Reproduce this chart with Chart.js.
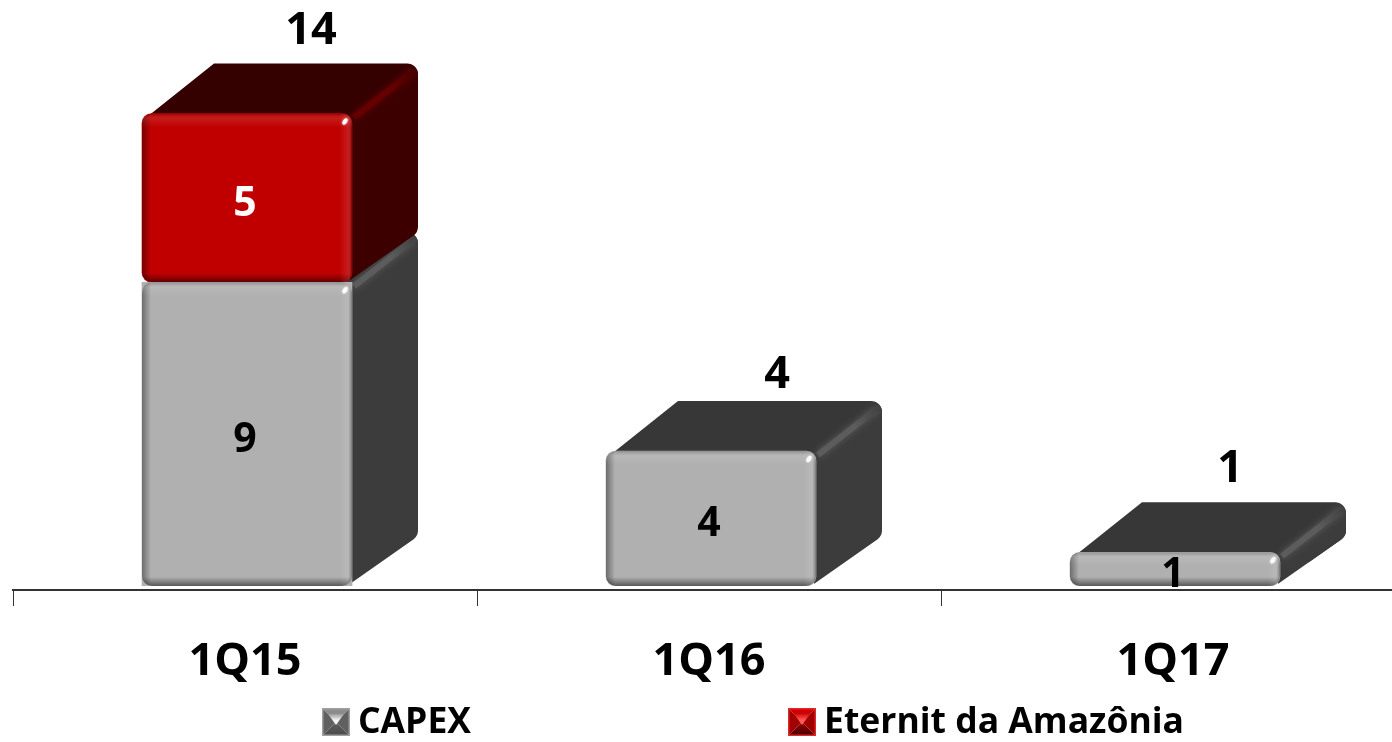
<!DOCTYPE html>
<html>
<head>
<meta charset="utf-8">
<title>CAPEX</title>
<script src="https://cdn.jsdelivr.net/npm/chart.js@4/dist/chart.umd.min.js"></script>
<style>
  html, body { margin: 0; padding: 0; background: #fff; overflow: hidden; }
  #wrap { width: 1392px; height: 742px; overflow: hidden; }
  canvas { display: block; }
</style>
</head>
<body>
<div id="wrap"><canvas id="capexChart" width="1420" height="742"></canvas></div>
<script>
const quarters = ["1Q15", "1Q16", "1Q17"]
const capexValues = [9, 4, 1]
const amazoniaValues = [5, null, null]
const totals = [14, 4, 1]

const FONT = "'Open Sans', sans-serif"
const DEPTH_X = 66
const DEPTH_Y = -50

// face colours for each series of the extruded bars
const faces = [
  {
    front: "#b0b0b0", top: "#373737", side: "#3c3c3c", ridge: "#5c5c5c", text: "#000",
    swatch: { frame: "#a0a0a0", top: "#8c8c8c", side: "#606060", bottom: "#4a4a4a", glow: "#f4f4f4" },
  },
  {
    front: "#c00000", top: "#350000", side: "#3c0000", ridge: "#660000", text: "#fff",
    swatch: { frame: "#e02828", top: "#d00000", side: "#a00000", bottom: "#400000", glow: "#ff5a5a" },
  },
]

function roundedPath(ctx, points, radius) {
  const last = points[points.length - 1]
  const first = points[0]
  ctx.beginPath()
  ctx.moveTo((last[0] + first[0]) / 2, (last[1] + first[1]) / 2)
  points.forEach((p, i) => {
    const next = points[(i + 1) % points.length]
    ctx.arcTo(p[0], p[1], next[0], next[1], radius)
  })
  ctx.closePath()
}

function frontPoints(el) {
  const x0 = el.x - el.width / 2
  const x1 = el.x + el.width / 2
  return [[x0, el.y], [x1, el.y], [x1, el.base], [x0, el.base]]
}

function drawExtrusion(ctx, el, face) {
  const x0 = el.x - el.width / 2
  const x1 = el.x + el.width / 2
  const top = el.y
  const bot = el.base
  const backTop = top + DEPTH_Y
  const backBot = bot + DEPTH_Y
  const backRight = x1 + DEPTH_X
  const r = 11

  // outline: sharp where it meets the front face, rounded on the back corners
  ctx.beginPath()
  ctx.moveTo(x0 + 3, top + 5)
  ctx.lineTo(x0 + DEPTH_X + 6, backTop)
  ctx.arcTo(backRight, backTop, backRight, backBot, r)
  ctx.arcTo(backRight, backBot, x1, bot, r)
  ctx.lineTo(x1 - 5, bot)
  ctx.lineTo(x1 - 5, top + 5)
  ctx.closePath()
  ctx.save()
  ctx.clip()

  ctx.fillStyle = face.top
  ctx.fillRect(x0, backTop - 2, x1 - x0 + DEPTH_X + 2, -DEPTH_Y + 12)

  ctx.fillStyle = face.side
  ctx.beginPath()
  ctx.moveTo(x1 - 2, top + 1)
  ctx.lineTo(backRight + 2, backTop - 2)
  ctx.lineTo(backRight + 2, backBot)
  ctx.lineTo(x1 - 2, bot + 2)
  ctx.closePath()
  ctx.fill()

  // lighter rounded edge running back from the front corner
  const ridge = ctx.createLinearGradient(x1, top, backRight, backTop)
  ridge.addColorStop(0, face.ridge)
  ridge.addColorStop(0.55, face.ridge)
  ridge.addColorStop(1, face.side)
  ctx.strokeStyle = ridge
  ctx.shadowColor = face.ridge
  ctx.shadowBlur = 7
  ctx.lineWidth = 6
  ctx.beginPath()
  ctx.moveTo(x1 + 2, top + 4)
  ctx.lineTo(backRight - 4, backTop + 7)
  ctx.stroke()
  ctx.restore()
}

function edgeBand(ctx, x0, y0, x1, y1, stops, rect) {
  const g = ctx.createLinearGradient(x0, y0, x1, y1)
  stops.forEach(([at, color]) => g.addColorStop(at, color))
  ctx.fillStyle = g
  ctx.fillRect(rect[0], rect[1], rect[2], rect[3])
}

function shadeFront(ctx, el) {
  const points = frontPoints(el)
  const x0 = el.x - el.width / 2
  const x1 = el.x + el.width / 2
  const w = x1 - x0
  const h = el.base - el.y

  ctx.save()
  roundedPath(ctx, points, 10)
  ctx.clip()

  // bevel bands along each edge of the face
  edgeBand(ctx, x0, 0, x0 + 9, 0, [[0, "rgba(0,0,0,0.38)"], [1, "rgba(0,0,0,0)"]], [x0, el.y, 9, h])
  edgeBand(ctx, 0, el.base, 0, el.base - 9, [[0, "rgba(0,0,0,0.5)"], [1, "rgba(0,0,0,0)"]], [x0, el.base - 9, w, 9])
  edgeBand(ctx, x1, 0, x1 - 13, 0, [
    [0, "rgba(0,0,0,0.35)"],
    [0.35, "rgba(255,255,255,0.1)"],
    [1, "rgba(255,255,255,0)"],
  ], [x1 - 13, el.y, 13, h])
  edgeBand(ctx, 0, el.y, 0, el.y + 14, [
    [0, "rgba(0,0,0,0.2)"],
    [0.35, "rgba(255,255,255,0.1)"],
    [1, "rgba(255,255,255,0)"],
  ], [x0, el.y, w, 14])

  // glint on the corner
  ctx.shadowBlur = 2
  ctx.shadowColor = "#fff"
  ctx.fillStyle = "rgba(255,255,255,0.9)"
  ctx.beginPath()
  ctx.ellipse(x1 - 7, el.y + 8, 2, 3.5, 0.6, 0, Math.PI * 2)
  ctx.fill()
  ctx.restore()
}

function drawSwatch(ctx, x, y, size, colors) {
  const cx = x + size / 2
  const cy = y + size / 2
  const tri = (fill, ax, ay, bx, by) => {
    ctx.fillStyle = fill
    ctx.beginPath()
    ctx.moveTo(cx, cy)
    ctx.lineTo(ax, ay)
    ctx.lineTo(bx, by)
    ctx.closePath()
    ctx.fill()
  }
  const r = x + size
  const b = y + size
  tri(colors.top, x, y, r, y)
  tri(colors.side, x, y, x, b)
  tri(colors.side, r, y, r, b)
  const bottom = ctx.createLinearGradient(0, cy, 0, b)
  bottom.addColorStop(0, colors.side)
  bottom.addColorStop(1, colors.bottom)
  tri(bottom, x, b, r, b)

  // bright pyramid tip
  const glow = ctx.createLinearGradient(0, y + 5, 0, cy + 3)
  glow.addColorStop(0, colors.top)
  glow.addColorStop(0.6, colors.glow)
  glow.addColorStop(1, colors.glow)
  ctx.fillStyle = glow
  ctx.beginPath()
  ctx.moveTo(x + 6, y + 6)
  ctx.lineTo(r - 6, y + 6)
  ctx.lineTo(cx, cy + 3)
  ctx.closePath()
  ctx.fill()

  ctx.strokeStyle = colors.frame
  ctx.lineWidth = 1.5
  ctx.strokeRect(x + 0.75, y + 0.75, size - 1.5, size - 1.5)
}

const blockBars = {
  id: "blockBars",
  beforeDatasetsDraw(chart) {
    const ctx = chart.ctx
    ctx.save()
    // the blocks sit just above the axis line
    ctx.translate(2, -4)
    chart.data.datasets.forEach((ds, i) => {
      chart.getDatasetMeta(i).data.forEach((el, j) => {
        if (ds.data[j] != null) drawExtrusion(ctx, el, faces[i])
      })
    })
  },
  afterDatasetsDraw(chart) {
    const ctx = chart.ctx
    chart.data.datasets.forEach((ds, i) => {
      chart.getDatasetMeta(i).data.forEach((el, j) => {
        if (ds.data[j] != null) shadeFront(ctx, el)
      })
    })
    ctx.restore()
  },
  afterDraw(chart) {
    const ctx = chart.ctx
    const yScale = chart.scales.y
    ctx.save()
    ctx.textAlign = "center"
    ctx.textBaseline = "middle"

    // values inside the blocks
    ctx.font = "bold 41px " + FONT
    chart.data.datasets.forEach((ds, i) => {
      chart.getDatasetMeta(i).data.forEach((el, j) => {
        if (ds.data[j] == null) return
        ctx.fillStyle = faces[i].text
        ctx.fillText(String(ds.data[j]), el.x, (el.y + el.base) / 2 + 2)
      })
    })

    // stack totals above the back edge
    const shifts = [[66, -86], [68, -80], [57, -87]]
    ctx.font = "bold 45px " + FONT
    ctx.fillStyle = "#000"
    totals.forEach((total, j) => {
      const x = chart.scales.x.getPixelForValue(j) + shifts[j][0]
      ctx.fillText(String(total), x, yScale.getPixelForValue(total) + shifts[j][1])
    })

    // legend row
    const legendX = [322, 788]
    ctx.textAlign = "left"
    ctx.font = "bold 35.5px " + FONT
    chart.data.datasets.forEach((ds, i) => {
      drawSwatch(ctx, legendX[i], 708, 28, faces[i].swatch)
      ctx.fillStyle = "#000"
      ctx.fillText(ds.label, legendX[i] + 36, 723)
    })
    ctx.restore()
  },
}

new Chart(document.getElementById("capexChart"), {
  type: "bar",
  data: {
    labels: quarters,
    datasets: [
      { label: "CAPEX", data: capexValues, backgroundColor: faces[0].front },
      { label: "Eternit da Amazônia", data: amazoniaValues, backgroundColor: faces[1].front },
    ],
  },
  options: {
    responsive: false,
    animation: false,
    devicePixelRatio: 1,
    layout: { padding: { left: 13, right: 15, top: 50, bottom: 0 } },
    datasets: {
      bar: { barThickness: 210, borderRadius: 10, borderSkipped: false, borderWidth: 0 },
    },
    scales: {
      x: {
        stacked: true,
        afterFit: (scale) => { scale.height = 152 },
        border: { color: "#333", width: 2 },
        grid: { drawOnChartArea: false, drawTicks: true, tickLength: 16, color: "#333", lineWidth: 1 },
        ticks: { color: "#000", font: { family: FONT, size: 45, weight: "bold" }, padding: 29, maxRotation: 0 },
      },
      y: { stacked: true, display: false, min: 0, max: 16 },
    },
    plugins: { legend: { display: false }, tooltip: { enabled: false } },
  },
  plugins: [blockBars],
})
</script>
</body>
</html>
